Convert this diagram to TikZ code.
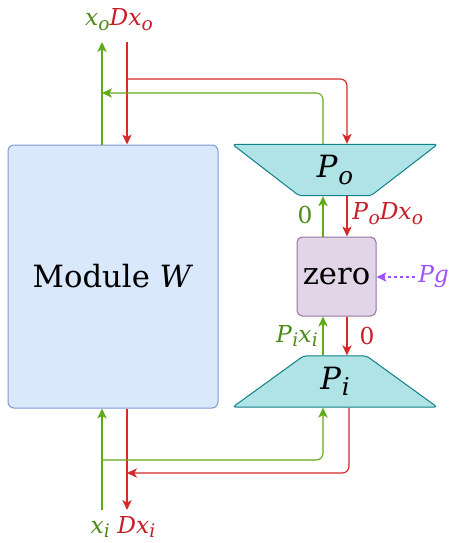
\documentclass[tikz,border=0pt]{standalone}
\usepackage{fontspec}
\setmainfont{DejaVu Serif}
\usetikzlibrary{arrows.meta,shapes.geometric}
\definecolor{gline}{HTML}{60A917}
\definecolor{gtext}{HTML}{4D8A1A}
\definecolor{rline}{HTML}{D42A2A}
\definecolor{rtext}{HTML}{C81E28}
\definecolor{pline}{HTML}{A050FF}
\definecolor{wfill}{HTML}{DAE8FC}
\definecolor{wdraw}{HTML}{7C9CCF}
\definecolor{tfill}{HTML}{B0E3E6}
\definecolor{tdraw}{HTML}{0E8088}
\definecolor{zfill}{HTML}{E1D5E7}
\definecolor{zdraw}{HTML}{9673A6}
\newcommand\vsub[2]{\textit{#1}\kern0.01em\lower0.4ex\hbox{\fontsize{0.8em}{0.8em}\selectfont\textit{#2}}}
\begin{document}
\begin{tikzpicture}[x=0.75pt,y=-0.75pt,
  boxW/.style={draw=wdraw,fill=wfill,rounded corners=4.5pt,line width=0.75pt,minimum width=157.5pt,minimum height=197.25pt,inner sep=0pt,font=\fontsize{23}{26}\selectfont},
  boxZ/.style={draw=zdraw,fill=zfill,rounded corners=4pt,line width=0.75pt,minimum width=59.25pt,minimum height=59.25pt,inner sep=0pt,font=\fontsize{23}{26}\selectfont},
  trap/.style={draw=tdraw,fill=tfill,line width=0.75pt,shape=trapezium,trapezium stretches=true,trapezium angle=41,minimum width=154.5pt,minimum height=38.5pt,rounded corners=2.5pt,inner sep=0pt,font=\fontsize{23}{26}\selectfont},
  garr/.style={draw=gline,line width=0.8pt,-{Stealth[length=7.5pt,width=7pt,inset=2pt]},rounded corners=5pt},
  rarr/.style={draw=rline,line width=0.85pt,-{Stealth[length=7.5pt,width=7pt,inset=2pt]},rounded corners=5pt},
  lbl/.style={font=\fontsize{17.5}{19}\selectfont,inner sep=0pt}]
\useasboundingbox (0,0) rectangle (450,543);
% shapes
\node[boxW] (W) at (113,276.5) {Module \textit{W}};
\node[boxZ] (Z) at (336.5,276.5) {zero};
\node[trap,shape border rotate=180] (Po) at (335,170) {\vsub{P}{o}};
\node[trap] (Pi) at (335,381.5) {\vsub{P}{i}};
% coordinates
\coordinate (xo) at (102,42);
\coordinate (dxo) at (127,42);
\coordinate (rbr) at (127,79);
\coordinate (gbr) at (102,93);
\coordinate (xi) at (102,510);
\coordinate (dxi) at (127,510);
\coordinate (gbi) at (102,460);
\coordinate (rbi) at (127,473);
\coordinate (pg) at (415,277);
% top connectors
\draw[garr] (W.north -| xo) -- (xo);
\draw[rarr] (dxo) -- (W.north -| dxo);
\draw[rarr] (rbr) -- (347,79) -- (Po.north -| 347,0);
\draw[garr] (Po.north -| 323,0) -- (323,93) -- (gbr);
% middle
\draw[garr] (Z.north -| 323,0) -- (Po.south -| 323,0);
\draw[rarr] (Po.south -| 347,0) -- (Z.north -| 347,0);
\draw[garr] (Pi.north -| 323,0) -- (Z.south -| 323,0);
\draw[rarr] (Z.south -| 347,0) -- (Pi.north -| 347,0);
\draw[draw=pline,line width=0.85pt,dash pattern=on 2.5pt off 2pt,-{Stealth[length=7.5pt,width=7pt,inset=2pt]}] (pg) -- (Z.east |- pg);
% bottom
\draw[garr] (xi) -- (W.south -| xi);
\draw[rarr] (W.south -| dxi) -- (dxi);
\draw[garr] (gbi) -- (323,460) -- (Pi.south -| 323,0);
\draw[rarr] (Pi.south -| 349,0) -- (349,473) -- (rbi);
% labels
\node[lbl] (ltop) at (119,20) {\textcolor{gtext}{\vsub{x}{o}}\textcolor{rtext}{\textit{D}\vsub{x}{o}}};
\node[lbl] (lbot) at (123,527) {\textcolor{gtext}{\vsub{x}{i}} \textcolor{rtext}{\textit{D}\vsub{x}{i}}};
\node[lbl,text=gtext] (l0a) at (305,215) {0};
\node[lbl,text=rtext,anchor=west] (lpo) at (352,214) {\vsub{P}{o}\textit{D}\vsub{x}{o}};
\node[lbl,text=gtext,anchor=east] (lpi) at (318,336) {\vsub{P}{i}\vsub{x}{i}};
\node[lbl,text=rtext] (l0b) at (367,336) {0};
\node[lbl,text=pline,anchor=west] (lpg) at (418,277) {\textit{Pg}};
\end{tikzpicture}
\end{document}
